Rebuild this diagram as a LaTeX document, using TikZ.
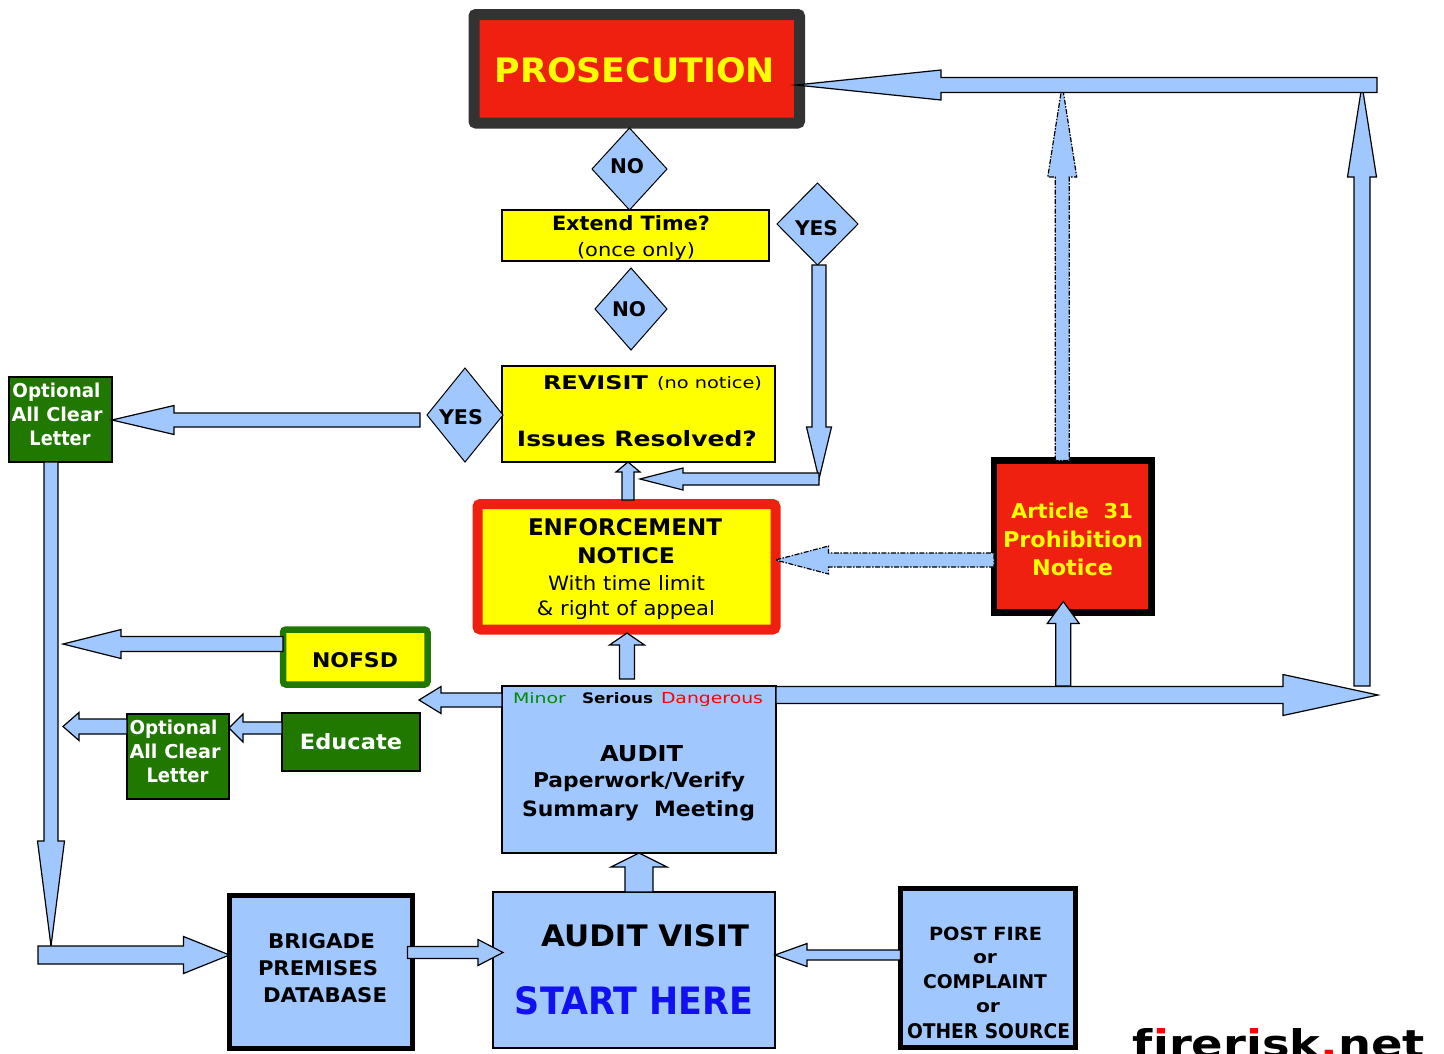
\documentclass[tikz,border=0pt]{standalone}
\usepackage{fontspec}
\setmainfont{DejaVu Sans}
\usetikzlibrary{calc,shapes.geometric}
\definecolor{lb}{RGB}{160,200,255}
\definecolor{gr}{RGB}{32,120,0}
\definecolor{rd}{RGB}{240,32,16}
\definecolor{yl}{RGB}{255,255,0}
\definecolor{dk}{RGB}{51,51,51}
\definecolor{bt}{RGB}{16,16,240}
\definecolor{mg}{RGB}{0,140,0}
\definecolor{dr}{RGB}{255,0,0}
\newcommand\rsz[3]{\resizebox{#1pt}{#2pt}{\fontsize{20pt}{24pt}\selectfont #3}}
\newcommand\redi{\rlap{\color{red}i}ı}
% block arrow: [style]{from}{to}{half shaft}{half head}{head length}
\newcommand\blockarr[6][]{%
  \coordinate (bxA) at (#2);
  \coordinate (bxB) at (#3);
  \coordinate (bxC) at ($(bxB)!#6pt!(bxA)$);
  \draw[blockar,#1] ($(bxA)!#4pt!90:(bxB)$) -- ($(bxC)!#4pt!90:(bxB)$) -- ($(bxC)!#5pt!90:(bxB)$) -- (bxB) -- ($(bxC)!#5pt!-90:(bxB)$) -- ($(bxC)!#4pt!-90:(bxB)$) -- ($(bxA)!#4pt!-90:(bxB)$) -- cycle;
}
\begin{document}
\begin{tikzpicture}[x={(1pt,0pt)}, y={(0pt,-1pt)},
  box/.style={rectangle, inner sep=0pt, outer sep=0pt, draw=black, line width=1.2pt},
  dia/.style={diamond, inner sep=0pt, outer sep=0pt, draw=black, line width=1pt, fill=lb},
  tx/.style={inner sep=0pt, outer sep=0pt, anchor=base},
  blockar/.style={fill=lb, draw=black, line width=1.2pt, line join=miter},
  dshd/.style={dash pattern=on 5pt off 1.5pt on 1.5pt off 1.5pt}]
\useasboundingbox (0,0) rectangle (1444,1053);
\fill[white] (0,0) rectangle (1444,1053);

% boxes
\node[box, fill=rd, draw=dk, line width=11pt, rounded corners=2pt, minimum width=325.5pt, minimum height=108.5pt] (pros) at (636.75,68.75) {};
\node[dia, minimum width=75pt, minimum height=82pt] (no1) at (629.5,169) {};
\node[box, fill=yl, minimum width=267pt, minimum height=51pt] (ext) at (635.5,235.5) {};
\node[dia, minimum width=81pt, minimum height=82pt] (yesR) at (817.5,224) {};
\node[dia, minimum width=72pt, minimum height=82pt] (no2) at (631,309) {};
\node[box, fill=yl, minimum width=273pt, minimum height=96pt] (rev) at (638.5,414) {};
\node[dia, minimum width=76pt, minimum height=94pt] (yesL) at (465,415) {};
\node[box, fill=gr, minimum width=103pt, minimum height=85pt] (opt1) at (60.5,419.5) {};
\node[box, fill=yl, draw=rd, line width=10pt, rounded corners=3pt, minimum width=298pt, minimum height=125.5pt] (enf) at (626.5,566.75) {};
\node[box, fill=rd, line width=6.5pt, minimum width=157.5pt, minimum height=152pt] (art) at (1072.75,536.5) {};
\node[box, fill=yl, draw=gr, line width=6.5pt, rounded corners=3pt, minimum width=144.5pt, minimum height=55pt] (nofsd) at (355.25,657) {};
\node[box, fill=lb, minimum width=274pt, minimum height=167pt] (audit) at (639,769.5) {};
\node[box, fill=gr, minimum width=138pt, minimum height=58pt] (educ) at (351,742) {};
\node[box, fill=gr, minimum width=102pt, minimum height=85pt] (opt2) at (178,756.5) {};
\node[box, fill=lb, line width=5pt, minimum width=183pt, minimum height=153pt] (brig) at (321,972) {};
\node[box, fill=lb, minimum width=282pt, minimum height=156pt] (av) at (634,970) {};
\node[box, fill=lb, line width=5pt, minimum width=175pt, minimum height=159pt] (post) at (988,968) {};

% helper coordinates
\coordinate (barR) at (1377,85);
\coordinate (rcB) at (1362,686);
\coordinate (tipR) at (1378,695);
\coordinate (artTop) at ($(art.north)+(-10.5,0)$);
\coordinate (artBot) at ($(art.south)+(-9.5,0)$);
\coordinate (lfA) at (419,700);
\coordinate (lfN) at (63,644);
\coordinate (lfO) at (63,726.5);
\coordinate (edA) at ($(educ.west)+(0,-14)$);
\coordinate (ylA) at ($(yesL.west)+(-7,5)$);
\coordinate (lc) at (51,946);
\coordinate (lcA) at (38,955);
\coordinate (auE) at ($(audit.north)+(-12,-7)$);
\coordinate (yc) at (819,479);
\coordinate (psA) at ($(post.west)+(0,-13)$);
\coordinate (avN) at ($(av.north)+(5,0)$);
\coordinate (enS) at ($(enf.south)+(1,3.5)$);
\coordinate (enN) at ($(enf.north)+(1.5,-4)$);
\coordinate (arW) at ($(art.west)+(0,23.5)$);

% arrows
\blockarr{rcB}{rcB |- barR}{8}{14.5}{92}
\blockarr[dshd]{artTop}{artTop |- barR}{7}{14.5}{92}
\blockarr{barR}{$(pros.east)+(-3.5,16.25)$}{7.5}{15}{145}
\blockarr{$(audit.north east)+(0,9)$}{tipR}{8.5}{20.5}{95}
\blockarr{artBot |- audit.north}{$(art.south)+(-9.5,-11)$}{7.5}{16}{22}
\blockarr{$(audit.north west)+(0,14)$}{lfA}{7}{13.5}{22}
\blockarr{$(nofsd.west)+(0,-13)$}{lfN}{7.5}{14.5}{58}
\blockarr{edA}{edA -| opt2.east}{6}{14}{14}
\blockarr{$(opt2.west)+(0,-30)$}{lfO}{7.5}{14}{16}
\blockarr{ylA}{ylA -| opt1.east}{7}{14.5}{62}
\blockarr{$(opt1.south)+(-9.5,0)$}{lc}{7}{13.5}{105}
\blockarr{lcA}{lcA -| brig.west}{9}{18.5}{46}
\blockarr{$(brig.east)+(-5,-19.5)$}{$(av.west)+(10,-17.5)$}{6}{13}{25}
\blockarr{psA}{psA -| av.east}{5}{11.5}{32}
\blockarr{avN}{avN |- audit.south}{14}{28}{14}
\blockarr{auE}{auE |- enS}{7.5}{17.5}{12}
\blockarr{enN}{enN |- rev.south}{6}{12}{10}
\blockarr{$(yesR.south)+(1.5,0)$}{yc}{7}{12.5}{52}
\blockarr{yc}{$(rev.south)+(1.5,17)$}{6}{11}{43}
\blockarr[dshd]{arW}{arW -| enf.east}{7}{14}{53}

% texts
\node[tx, text=yl] (tPros) at (635,82) {\rsz{280}{25}{\bfseries PROSECUTION}};
\node[tx] (tNo1) at (627,173) {\rsz{34}{15}{\bfseries NO}};
\node[tx] (tExt1) at (631,230) {\rsz{158}{15}{\bfseries Extend Time?}};
\node[tx] (tExt2) at (636,256) {\rsz{118}{14}{(once only)}};
\node[tx] (tYesR) at (816.5,235) {\rsz{43}{15}{\bfseries YES}};
\node[tx] (tNo2) at (629,316) {\rsz{34}{15}{\bfseries NO}};
\node[tx] (tRev1) at (595.5,389) {\rsz{105}{14}{\bfseries REVISIT}};
\node[tx] (tRev2) at (709.5,388) {\rsz{105}{12}{(no notice)}};
\node[tx] (tRev3) at (637,446) {\rsz{240}{16}{\bfseries Issues Resolved?}};
\node[tx] (tYesL) at (461,424) {\rsz{44}{15}{\bfseries YES}};
\node[tx, text=white] (tO1a) at (56.5,397) {\rsz{88}{14.5}{\bfseries Optional}};
\node[tx, text=white] (tO1b) at (57,421) {\rsz{91}{14.5}{\bfseries All Clear}};
\node[tx, text=white] (tO1c) at (60,445) {\rsz{61}{14.5}{\bfseries Letter}};
\node[tx, text=white] (tO2a) at (173.5,734) {\rsz{88}{14.5}{\bfseries Optional}};
\node[tx, text=white] (tO2b) at (175,758) {\rsz{91}{14.5}{\bfseries All Clear}};
\node[tx, text=white] (tO2c) at (177.5,782) {\rsz{62}{14.5}{\bfseries Letter}};
\node[tx] (tEn1) at (625,535) {\rsz{194}{17}{\bfseries ENFORCEMENT}};
\node[tx] (tEn2) at (626,563) {\rsz{98}{16}{\bfseries NOTICE}};
\node[tx] (tEn3) at (626.5,590) {\rsz{157}{15}{With time limit}};
\node[tx] (tEn4) at (626,615) {\rsz{178}{15}{\& right of appeal}};
\node[tx, text=yl] (tAr1) at (1072,518) {\rsz{122}{15.5}{\bfseries Article\ \ 31}};
\node[tx, text=yl] (tAr2) at (1073,547) {\rsz{140}{16.5}{\bfseries Prohibition}};
\node[tx, text=yl] (tAr3) at (1072.5,575) {\rsz{81}{16.5}{\bfseries Notice}};
\node[tx] (tNof) at (355,667) {\rsz{86}{15}{\bfseries NOFSD}};
\node[tx, text=white] (tEdu) at (351,749) {\rsz{102}{16}{\bfseries Educate}};
\node[tx, text=mg] (tMin) at (539.5,703) {\rsz{53}{11}{Minor}};
\node[tx] (tSer) at (617.5,703) {\rsz{71}{11}{\bfseries Serious}};
\node[tx, text=dr] (tDan) at (712,703) {\rsz{102}{11}{Dangerous}};
\node[tx] (tAu1) at (641.5,761) {\rsz{83}{16}{\bfseries AUDIT}};
\node[tx] (tAu2) at (639,787) {\rsz{212}{15.5}{\bfseries Paperwork/Verify}};
\node[tx] (tAu3) at (638.5,816) {\rsz{233}{16}{\bfseries Summary\ \ Meeting}};
\node[tx] (tAv1) at (645,946) {\rsz{208}{22}{\bfseries AUDIT VISIT}};
\node[tx, text=bt] (tAv2) at (634,1014) {\rsz{238}{28}{\bfseries START HERE}};
\node[tx] (tBr1) at (321.5,948) {\rsz{107}{15}{\bfseries BRIGADE}};
\node[tx] (tBr2) at (318,975) {\rsz{120}{15}{\bfseries PREMISES}};
\node[tx] (tBr3) at (325,1002) {\rsz{124}{15}{\bfseries DATABASE}};
\node[tx] (tPo1) at (985.5,940) {\rsz{113}{13.5}{\bfseries POST FIRE}};
\node[tx] (tPo2) at (985,963) {\rsz{24}{10}{\bfseries or}};
\node[tx] (tPo3) at (985,988) {\rsz{124}{14}{\bfseries COMPLAINT}};
\node[tx] (tPo4) at (988,1012) {\rsz{24}{10}{\bfseries or}};
\node[tx] (tPo5) at (988.5,1038) {\rsz{163}{15}{\bfseries OTHER SOURCE}};
\node[tx] (logo) at (1279,1057) {\rsz{292}{29}{\bfseries f\redi rer\redi sk{\color{red}.}net}};
\end{tikzpicture}
\end{document}
